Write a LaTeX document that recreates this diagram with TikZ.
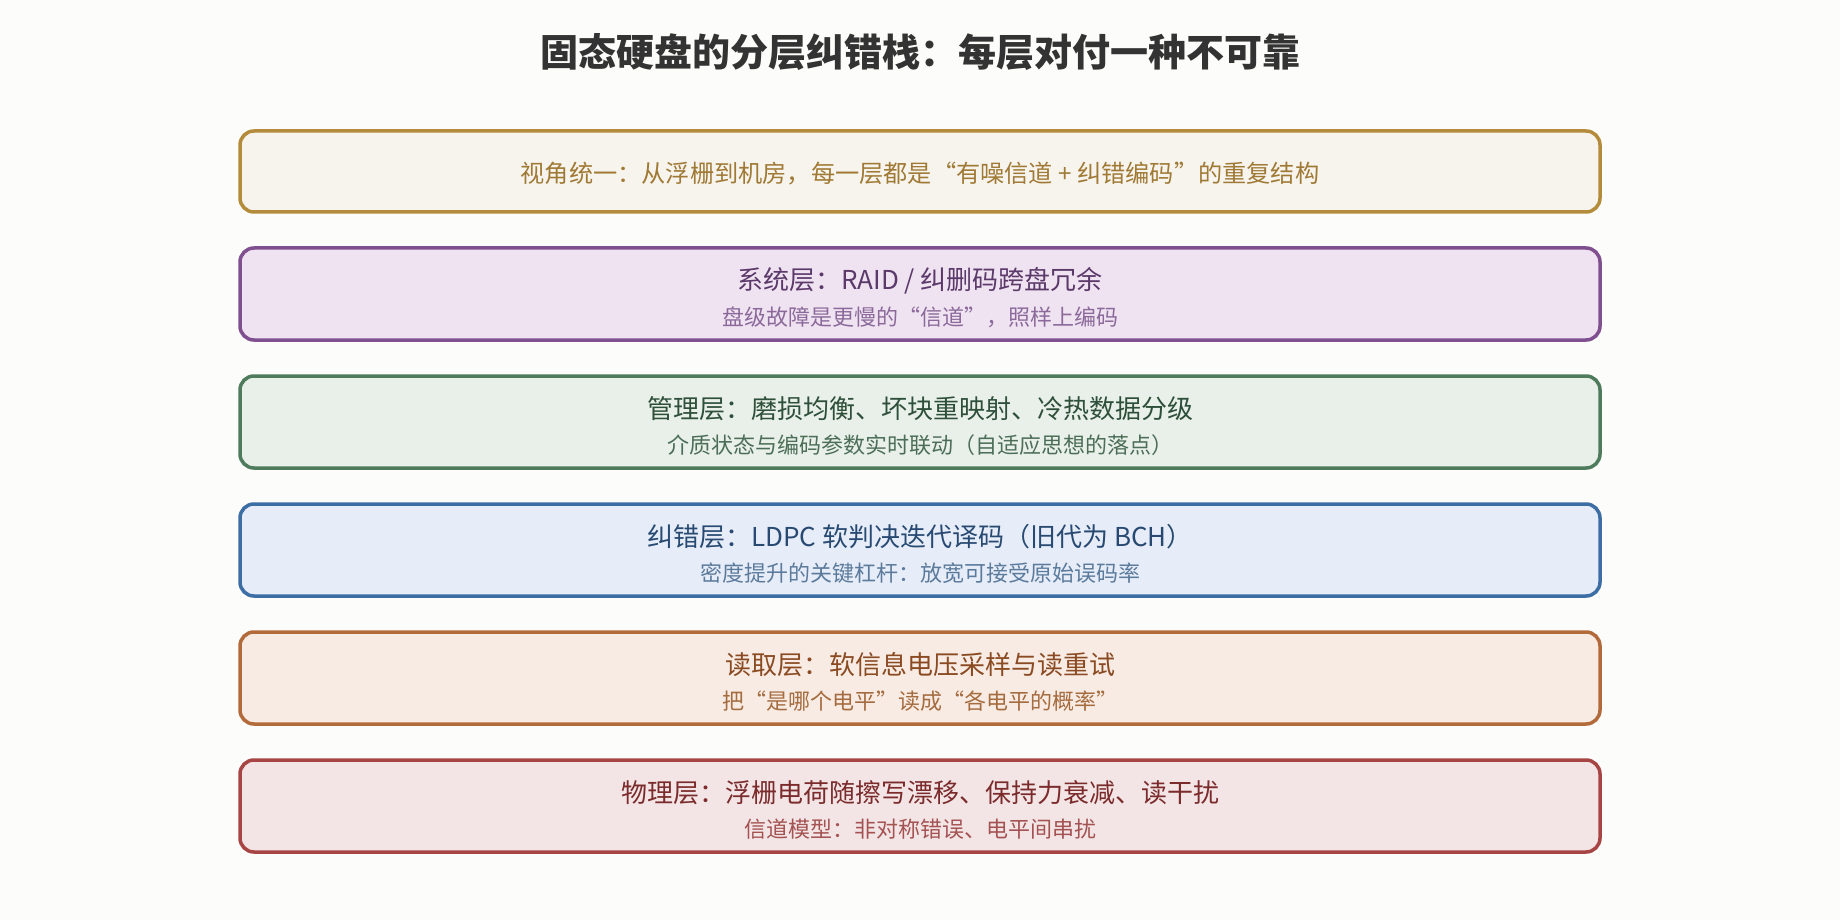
\documentclass[tikz,border=0pt]{standalone}
\usepackage{fontspec}
\setmainfont{Noto Sans CJK SC}
\definecolor{bg}{HTML}{FCFCFA}
\definecolor{ttl}{HTML}{333333}
\definecolor{bdA}{HTML}{B38B3B}\definecolor{fiA}{HTML}{F7F4EE}\definecolor{txA}{HTML}{A07A35}
\definecolor{bdB}{HTML}{7F4F8F}\definecolor{fiB}{HTML}{F0E3F1}\definecolor{tiB}{HTML}{5B3A6B}\definecolor{suB}{HTML}{8B6A9B}
\definecolor{bdC}{HTML}{4D7B5B}\definecolor{fiC}{HTML}{E9F0E9}\definecolor{tiC}{HTML}{2E4F3A}\definecolor{suC}{HTML}{4C6E58}
\definecolor{bdD}{HTML}{3C6DA4}\definecolor{fiD}{HTML}{E6EDF8}\definecolor{tiD}{HTML}{284A72}\definecolor{suD}{HTML}{5C7B9C}
\definecolor{bdE}{HTML}{B36A3B}\definecolor{fiE}{HTML}{F8EBE3}\definecolor{tiE}{HTML}{8A4A22}\definecolor{suE}{HTML}{A56C3F}
\definecolor{bdF}{HTML}{A74545}\definecolor{fiF}{HTML}{F3E5E6}\definecolor{tiF}{HTML}{7B2B2B}\definecolor{suF}{HTML}{A45252}
\tikzset{
  layerbox/.style={draw, line width=3.5pt, rounded corners=14pt, inner sep=0pt,
    minimum width=1360pt, minimum height=92pt},
  maintext/.style={inner sep=0pt, font=\fontsize{26}{30}\selectfont},
  subtext/.style={inner sep=0pt, font=\fontsize{22}{26}\selectfont},
}
\begin{document}
\begin{tikzpicture}[x=1pt,y=-1pt]
\fill[bg] (0,0) rectangle (1840,920);
\useasboundingbox (0,0) rectangle (1840,920);
\node[inner sep=0pt, text=ttl, font=\fontsize{38}{44}\selectfont\bfseries] (title) at (920,52) {固态硬盘的分层纠错栈：每层对付一种不可靠};
% box 1
\node[layerbox, draw=bdA, fill=fiA, minimum height=81pt] (b1) at (920,171.5) {};
\node[inner sep=0pt, text=txA, font=\fontsize{24.2}{28}\selectfont] (t1) at (920,173.5) {视角统一：从浮栅到机房，每一层都是“有噪信道 + 纠错编码”的重复结构};
% box 2
\node[layerbox, draw=bdB, fill=fiB] (b2) at (920,294) {};
\node[maintext, text=tiB] (t2) at (920,280.5) {系统层：RAID / 纠删码跨盘冗余};
\node[subtext, text=suB] (s2) at (920,317) {盘级故障是更慢的“信道”，照样上编码};
% box 3
\node[layerbox, draw=bdC, fill=fiC] (b3) at (920,422) {};
\node[maintext, text=tiC] (t3) at (920,408.5) {管理层：磨损均衡、坏块重映射、冷热数据分级};
\node[subtext, text=suC] (s3) at (920,445) {介质状态与编码参数实时联动（自适应思想的落点）};
% box 4
\node[layerbox, draw=bdD, fill=fiD] (b4) at (920,550) {};
\node[maintext, text=tiD] (t4) at (920,536.5) {纠错层：LDPC 软判决迭代译码（旧代为 BCH）};
\node[subtext, text=suD] (s4) at (920,573) {密度提升的关键杠杆：放宽可接受原始误码率};
% box 5
\node[layerbox, draw=bdE, fill=fiE] (b5) at (920,678) {};
\node[maintext, text=tiE] (t5) at (920,664.5) {读取层：软信息电压采样与读重试};
\node[subtext, text=suE] (s5) at (920,701) {把“是哪个电平”读成“各电平的概率”};
% box 6
\node[layerbox, draw=bdF, fill=fiF] (b6) at (920,806) {};
\node[maintext, text=tiF] (t6) at (920,792.5) {物理层：浮栅电荷随擦写漂移、保持力衰减、读干扰};
\node[subtext, text=suF] (s6) at (920,829) {信道模型：非对称错误、电平间串扰};
\end{tikzpicture}
\end{document}
